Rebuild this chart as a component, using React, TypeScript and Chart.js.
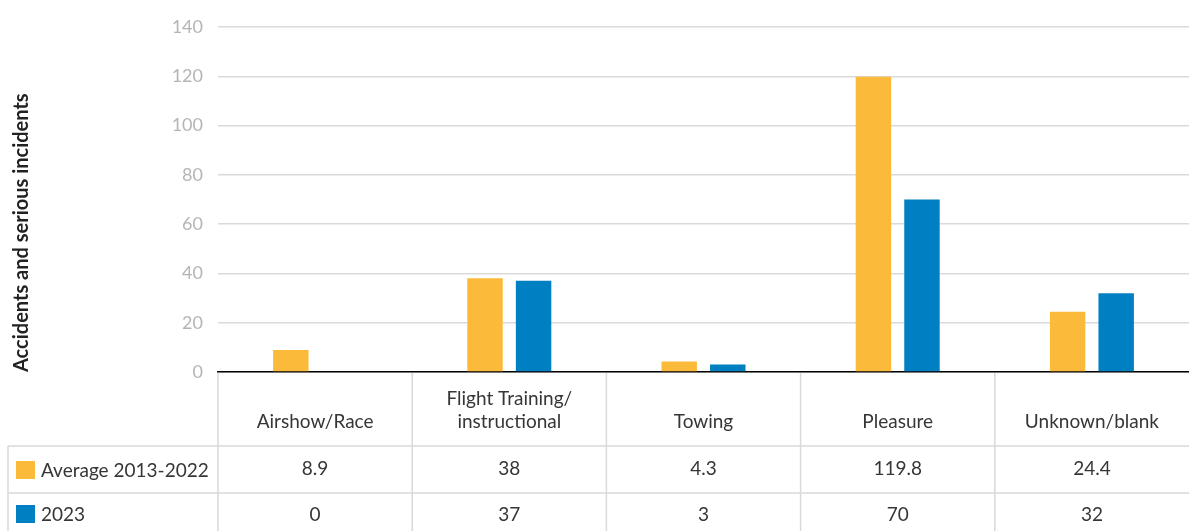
import React, { useEffect, useRef } from "react";
import { Chart, registerables } from "chart.js";

Chart.register(...registerables);

const categories: string[][] = [
  ["Airshow/Race"],
  ["Flight Training/", "instructional"],
  ["Towing"],
  ["Pleasure"],
  ["Unknown/blank"],
];
const seriesNames = ["Average 2013-2022", "2023"];
const average = [8.9, 38, 4.3, 119.8, 24.4];
const latest = [0, 37, 3, 70, 32];
const averageLabels = ["8.9", "38", "4.3", "119.8", "24.4"];
const latestLabels = ["0", "37", "3", "70", "32"];
const colors = ["#FBBA3A", "#007FC3"];
const FONT = "Lato, 'Noto Sans', sans-serif";

const tablePlugin = {
  id: "dataTable",
  afterDraw(chart: any) {
    const ctx = chart.ctx as CanvasRenderingContext2D;
    const x = chart.scales.x;
    const area = chart.chartArea;
    const n = categories.length;
    const step = (area.right - area.left) / n;
    const top = area.bottom;
    const headerBottom = 446;
    const row1Bottom = 493;
    const bottom = chart.height;
    const leftEdge = 8;
    ctx.save();
    ctx.strokeStyle = "#d9d9d9";
    ctx.lineWidth = 1.5;
    ctx.beginPath();
    ctx.moveTo(leftEdge, headerBottom);
    ctx.lineTo(area.right, headerBottom);
    ctx.moveTo(leftEdge, row1Bottom);
    ctx.lineTo(area.right, row1Bottom);
    ctx.moveTo(leftEdge, headerBottom);
    ctx.lineTo(leftEdge, bottom);
    for (let i = 0; i < n; i++) {
      const c = x.getPixelForValue(i);
      const b = c - step / 2;
      ctx.moveTo(b, top + 1);
      ctx.lineTo(b, bottom);
    }
    ctx.stroke();

    ctx.fillStyle = "#363636";
    ctx.textAlign = "center";
    ctx.textBaseline = "middle";
    ctx.font = `19px ${FONT}`;
    categories.forEach((lines, i) => {
      const c = x.getPixelForValue(i);
      const base = 422;
      lines.forEach((ln, j) => {
        ctx.fillText(ln, c, base - (lines.length - 1 - j) * 23);
      });
      ctx.fillText(averageLabels[i], c, 469);
      ctx.fillText(latestLabels[i], c, 515);
    });

    ctx.textAlign = "left";
    const rows = [470, 514];
    rows.forEach((y, r) => {
      ctx.fillStyle = colors[r];
      ctx.fillRect(16, y - 9, 19, 18);
      ctx.fillStyle = "#363636";
      ctx.fillText(seriesNames[r], 41, y + 1);
    });
    ctx.restore();
  },
};

export default function App() {
  const ref = useRef<HTMLCanvasElement | null>(null);
  useEffect(() => {
    document.body.style.margin = "0";
    const chart = new Chart(ref.current as HTMLCanvasElement, {
      type: "bar",
      data: {
        labels: categories.map((c) => c.join(" ")),
        datasets: [
          {
            label: seriesNames[0],
            data: average,
            backgroundColor: colors[0],
            categoryPercentage: 0.5,
            barPercentage: 0.73,
          },
          {
            label: seriesNames[1],
            data: latest,
            backgroundColor: colors[1],
            categoryPercentage: 0.5,
            barPercentage: 0.73,
          },
        ],
      },
      options: {
        animation: false,
        responsive: true,
        maintainAspectRatio: false,
        layout: { padding: { left: 8, top: 27, right: 0, bottom: 159 } },
        plugins: { legend: { display: false }, tooltip: { enabled: false } },
        scales: {
          x: {
            grid: { display: false },
            ticks: { display: false },
            border: { display: true, color: "#000000", width: 1.5 },
            afterFit: (s: any) => {
              s.height = 0;
            },
          },
          y: {
            min: 0,
            max: 140,
            ticks: {
              stepSize: 20,
              color: "#b5b5b5",
              padding: 15,
              font: { family: FONT, size: 18 },
            },
            grid: { color: "#dadada", lineWidth: 1.5, drawTicks: false },
            border: { display: false },
            title: {
              display: true,
              text: "Accidents and serious incidents",
              align: "start",
              color: "#222222",
              padding: { top: 2, bottom: 4 },
              font: { family: FONT, size: 20, weight: "bold" },
            },
            afterFit: (s: any) => {
              s.width = 210;
            },
          },
        },
      },
      plugins: [tablePlugin],
    });
    return () => chart.destroy();
  }, []);
  return (
    <div style={{ position: "absolute", left: 0, top: 0, width: 1189, height: 531 }}>
      <canvas ref={ref} />
    </div>
  );
}
